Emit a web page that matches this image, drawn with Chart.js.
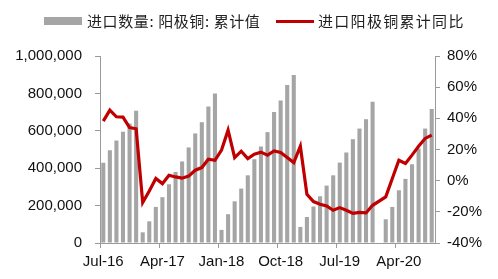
<!DOCTYPE html>
<html>
<head>
<meta charset="utf-8">
<script src="https://cdn.jsdelivr.net/npm/chart.js@4/dist/chart.umd.min.js"></script>
<style>
  html, body { margin: 0; padding: 0; background: #fff; }
  #wrap { position: relative; width: 498px; height: 279px; }
  #legend { position: absolute; top: 10px; left: 0; width: 498px; height: 22px;
            font-family: "Noto Sans CJK SC", sans-serif; font-size: 15px; color: #222; }
  .item { position: absolute; top: 0; height: 22px; line-height: 22px; white-space: nowrap; }
  .swatch { position: absolute; }
</style>
</head>
<body>
<div id="wrap">
  <canvas id="c" width="498" height="279"></canvas>
  <div id="legend"></div>
</div>
<script>
const seriesNames = ["进口数量: 阳极铜: 累计值", "进口阳极铜累计同比"];

const categories = [
  "Jul-16","Aug-16","Sep-16","Oct-16","Nov-16","Dec-16",
  "Jan-17","Feb-17","Mar-17","Apr-17","May-17","Jun-17","Jul-17","Aug-17","Sep-17","Oct-17","Nov-17","Dec-17",
  "Jan-18","Feb-18","Mar-18","Apr-18","May-18","Jun-18","Jul-18","Aug-18","Sep-18","Oct-18","Nov-18","Dec-18",
  "Jan-19","Feb-19","Mar-19","Apr-19","May-19","Jun-19","Jul-19","Aug-19","Sep-19","Oct-19","Nov-19","Dec-19",
  "Jan-20","Feb-20","Mar-20","Apr-20","May-20","Jun-20","Jul-20","Aug-20","Sep-20"
];

const importVolume = [
  429000, 496000, 548000, 595000, 639000, 707000,
  57000, 116000, 193000, 245000, 314000, 380000, 436000, 511000, 586000, 646000, 730000, 800000,
  70000, 154000, 223000, 291000, 362000, 448000, 516000, 593000, 700000, 762000, 845000, 898000,
  86000, 139000, 195000, 250000, 307000, 362000, 430000, 484000, 555000, 612000, 662000, 755000,
  null, 127000, 193000, 282000, 343000, 421000, 505000, 612000, 716000
];

const yoyChange = [
  38.2, 45.3, 41.0, 40.8, 34.1, 33.3,
  -14.0, -6.6, 1.4, -1.9, 3.5, 2.4, 1.6, 2.9, 6.7, 8.4, 13.8, 13.1,
  19.6, 32.4, 14.8, 18.9, 14.2, 17.0, 18.3, 16.4, 19.1, 18.1, 14.8, 11.6,
  22.1, -8.7, -13.4, -15.1, -16.2, -19.0, -17.3, -19.0, -21.0, -20.3, -20.7, -15.8,
  null, -10.4, 1.4, 13.1, 11.0, 16.4, 22.1, 27.1, 29.2
];

const xTickLabels = ["Jul-16","Apr-17","Jan-18","Oct-18","Jul-19","Apr-20"];
const leftTicks = [0, 200000, 400000, 600000, 800000, 1000000];
const rightTicks = [-40, -20, 0, 20, 40, 60, 80];

const barColor = "#a5a5a5";
const lineColor = "#c00000";
const axisColor = "#9a9a9a";
const tickFont = { family: "'Liberation Sans', Arial, sans-serif", size: 15 };

// HTML legend
const legend = document.getElementById("legend");
legend.innerHTML =
  '<div class="item" style="left:44px;"><span class="swatch" style="left:0;top:7px;width:38px;height:8px;background:' + barColor + ';"></span>' +
  '<span style="position:absolute;left:43px;letter-spacing:0.6px;">' + seriesNames[0] + '</span></div>' +
  '<div class="item" style="left:276px;"><span class="swatch" style="left:0;top:10px;width:38px;height:3px;background:' + lineColor + ';"></span>' +
  '<span style="position:absolute;left:42px;letter-spacing:1.3px;">' + seriesNames[1] + '</span></div>';

const gridEvery = (ctx) => (ctx.index % 9 === 0 ? axisColor : "rgba(0,0,0,0)");

new Chart(document.getElementById("c"), {
  type: "bar",
  data: {
    labels: categories,
    datasets: [
      {
        type: "line",
        label: seriesNames[1],
        data: yoyChange,
        yAxisID: "y1",
        borderColor: lineColor,
        backgroundColor: lineColor,
        borderWidth: 3.2,
        pointRadius: 0,
        tension: 0,
        spanGaps: true,
        order: 0
      },
      {
        type: "bar",
        label: seriesNames[0],
        data: importVolume,
        yAxisID: "y",
        backgroundColor: barColor,
        barPercentage: 0.62,
        categoryPercentage: 1.0,
        order: 1
      }
    ]
  },
  options: {
    responsive: false,
    animation: false,
    devicePixelRatio: 1,
    layout: { padding: { top: 56, left: 0, right: 0, bottom: 0 } },
    plugins: { legend: { display: false }, tooltip: { enabled: false } },
    scales: {
      x: {
        type: "category",
        offset: true,
        afterFit: (s) => { s.height = 36; },
        grid: {
          offset: true,
          drawOnChartArea: false,
          drawTicks: true,
          tickLength: 5,
          color: gridEvery,
          tickColor: gridEvery,
          lineWidth: 1
        },
        border: { display: true, color: axisColor, width: 1 },
        ticks: {
          autoSkip: false,
          maxRotation: 0,
          minRotation: 0,
          padding: 5,
          color: "#111",
          font: tickFont,
          callback: (v, i) => (xTickLabels.includes(categories[i]) ? categories[i] : "")
        }
      },
      y: {
        position: "left",
        min: 0,
        max: 1000000,
        afterFit: (s) => { s.width = 100; },
        afterBuildTicks: (s) => { s.ticks = leftTicks.map(v => ({ value: v })); },
        grid: { drawOnChartArea: false, drawTicks: true, tickLength: 5, color: axisColor },
        border: { display: true, color: axisColor },
        ticks: {
          padding: 13,
          color: "#111",
          font: tickFont,
          callback: (v) => v.toLocaleString("en-US")
        }
      },
      y1: {
        position: "right",
        min: -40,
        max: 80,
        afterFit: (s) => { s.width = 63; },
        afterBuildTicks: (s) => { s.ticks = rightTicks.map(v => ({ value: v })); },
        grid: { drawOnChartArea: false, drawTicks: true, tickLength: 5, color: axisColor },
        border: { display: true, color: axisColor },
        ticks: {
          padding: 7,
          color: "#111",
          font: tickFont,
          callback: (v) => v + "%"
        }
      }
    }
  }
});
</script>
</body>
</html>
